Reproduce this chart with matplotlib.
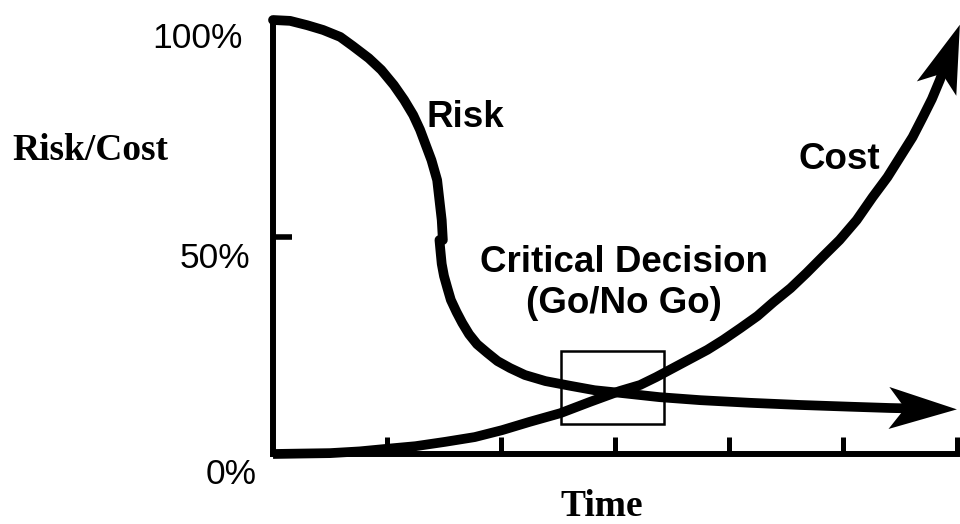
import numpy as np
import matplotlib.pyplot as plt
from matplotlib.patches import Polygon, Rectangle
from matplotlib.transforms import IdentityTransform

# values: time in tick steps (0-6), level in percent
risk_top_t = [0.00, 0.15, 0.30, 0.44, 0.59, 0.70, 0.84, 0.95, 1.06, 1.15, 1.23, 1.29,
              1.34, 1.39, 1.44, 1.46, 1.48, 1.49]
risk_top_v = [100.0, 99.8, 98.8, 97.7, 96.1, 94.0, 91.2, 88.5, 85.0, 81.6, 78.1, 74.7,
              71.2, 67.7, 63.1, 58.5, 53.9, 49.3]

risk_low_t = [1.46, 1.47, 1.48, 1.50, 1.53, 1.56, 1.61, 1.66, 1.72, 1.79, 1.88, 1.97,
              2.08, 2.21, 2.39, 2.61, 2.82, 3.04, 3.39, 3.75, 4.18, 4.62, 5.06, 5.41, 5.78]
risk_low_v = [49.3, 46.5, 43.8, 41.0, 38.2, 35.5, 32.7, 30.2, 27.6, 25.3, 23.3, 21.4,
              19.8, 18.2, 16.8, 15.7, 14.7, 14.1, 13.1, 12.4, 11.8, 11.3, 10.9, 10.6, 10.4]

cost_t = [0.00, 0.24, 0.50, 0.76, 1.00, 1.25, 1.51, 1.77, 2.01, 2.25, 2.52, 2.78,
          3.04, 3.22, 3.36, 3.51, 3.66, 3.81, 3.95, 4.10, 4.25, 4.39, 4.54, 4.68,
          4.82, 4.97, 5.12, 5.26, 5.39, 5.50, 5.61, 5.70, 5.78, 5.85, 5.90, 5.95]
cost_v = [0.0, 0.1, 0.2, 0.6, 1.2, 1.8, 2.8, 3.9, 5.5, 7.4, 9.4, 12.0,
          14.5, 15.9, 17.7, 19.8, 21.9, 24.0, 26.3, 29.0, 31.8, 35.0, 38.2, 41.7,
          45.4, 49.3, 53.9, 59.2, 63.8, 68.4, 73.0, 77.6, 81.8, 86.2, 89.9, 93.5]

time_ticks = [1, 2, 3, 4, 5, 6]
level_values = [100, 50, 0]
level_labels = ['100%', '50%', '0%']

decision_t = (2.53, 3.43)   # go / no go window
decision_v = (6.9, 23.7)

PX = 0.72  # pixels -> points at 100 dpi


def arrow_head(ax, t, v, reach=25, length=68, half=21, notch=16):
    # stealth style head, pointed along the last segment of the curve
    p = ax.transData.transform(np.column_stack([t[-2:], v[-2:]]))
    u = p[1] - p[0]
    u = u / np.hypot(*u)
    n = np.array([-u[1], u[0]])
    tip = p[1] + reach * u
    pts = [tip, tip - length * u + half * n, tip - (length - notch) * u,
           tip - length * u - half * n]
    ax.add_patch(Polygon(pts, closed=True, facecolor='black', edgecolor='none',
                         transform=IdentityTransform(), clip_on=False, zorder=4))


fig = plt.figure(figsize=(9.6, 5.24), dpi=100)
ax = fig.add_axes([273 / 960, 70 / 524, 684 / 960, 434 / 524])
ax.set_xlim(0, 6)
ax.set_ylim(0, 100)

for side in ['top', 'right']:
    ax.spines[side].set_visible(False)
for side in ['left', 'bottom']:
    ax.spines[side].set_linewidth(4.3)
    ax.spines[side].set_capstyle('projecting')

ax.set_xticks(time_ticks)
ax.set_xticklabels([])
ax.set_yticks([50])
ax.set_yticklabels([])
ax.tick_params(axis='x', direction='in', length=12, width=3.6)
ax.tick_params(axis='y', direction='in', length=13.5, width=4)

lw = 7
ax.plot(risk_top_t, risk_top_v, color='black', lw=lw, solid_capstyle='round',
        solid_joinstyle='round', clip_on=False, zorder=3)
ax.plot(risk_low_t, risk_low_v, color='black', lw=lw, solid_capstyle='round',
        solid_joinstyle='round', clip_on=False, zorder=3)
ax.plot(cost_t, cost_v, color='black', lw=lw, solid_capstyle='butt',
        solid_joinstyle='round', clip_on=False, zorder=3)
arrow_head(ax, risk_low_t, risk_low_v)
arrow_head(ax, cost_t, cost_v)

ax.add_patch(Rectangle((decision_t[0], decision_v[0]), decision_t[1] - decision_t[0],
                       decision_v[1] - decision_v[0], fill=False, lw=1.8,
                       edgecolor='black', zorder=2))

sans = 'Liberation Sans'
serif = 'Liberation Serif'

# percent labels sit a little below and left of their level
offsets = [(-30, -18), (-23, -21), (-16, -20)]
for val, lab, (dx, dy) in zip(level_values, level_labels, offsets):
    ax.annotate(lab, xy=(0, val), xytext=(dx * PX, dy * PX), textcoords='offset points',
                ha='right', va='center', fontsize=25.5, family=sans, annotation_clip=False)

ax.text(1.69, 77.6, 'Risk', ha='center', va='center', fontsize=26.5,
        fontweight='bold', family=sans)
ax.text(4.97, 67.9, 'Cost', ha='center', va='center', fontsize=26.5,
        fontweight='bold', family=sans)
ax.text(3.08, 39.4, 'Critical Decision\n(Go/No Go)', ha='center', va='center',
        fontsize=26.5, fontweight='bold', family=sans, linespacing=1.2)

fig.text(90 / 960, 1 - 150 / 524, 'Risk/Cost', ha='center', va='center',
         fontsize=27, fontweight='bold', family=serif)
fig.text(602 / 960, 1 - 506 / 524, 'Time', ha='center', va='center',
         fontsize=27, fontweight='bold', family=serif)

fig.savefig('out.png', dpi=100)
